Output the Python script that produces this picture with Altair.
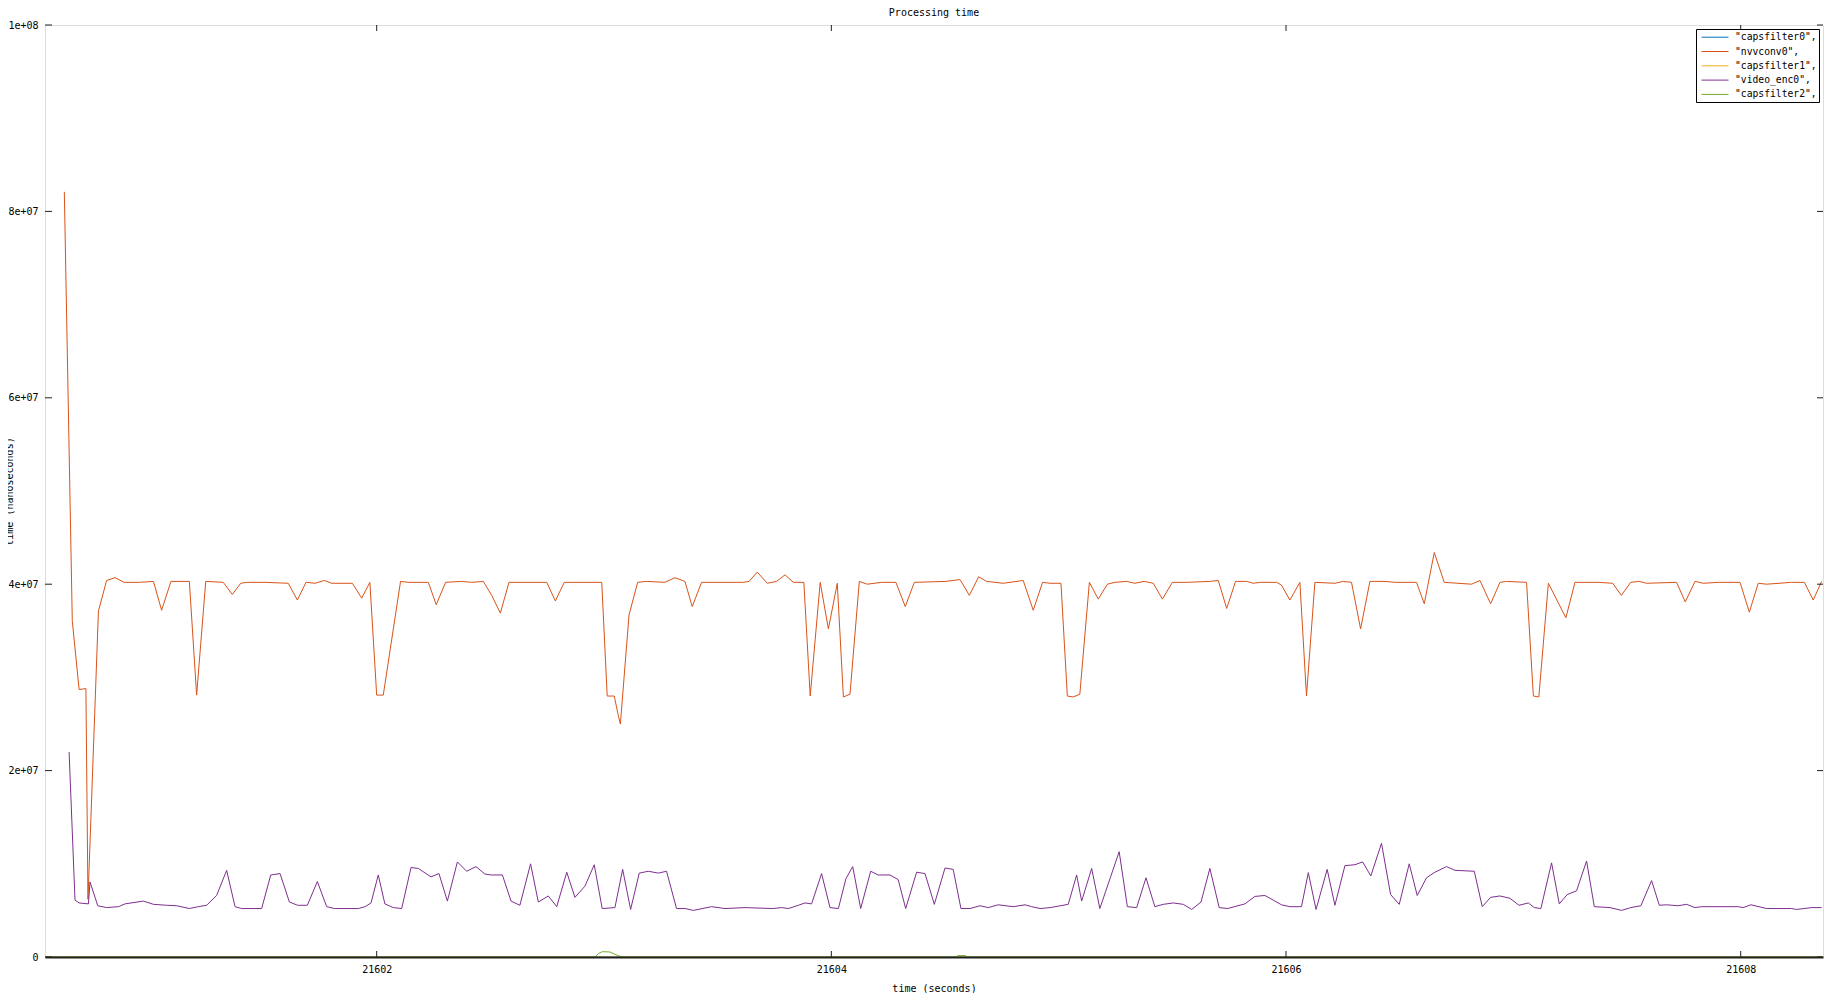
import altair as alt
import pandas as pd

FONT = "DejaVu Sans Mono"

SERIES = ['"capsfilter0",', '"nvvconv0",', '"capsfilter1",', '"video_enc0",', '"capsfilter2",']
COLORS = ["#0072bd", "#d95319", "#edb120", "#7e2f8e", "#77ac30"]

X_TICKS = [21602, 21604, 21606, 21608]
Y_TICKS = [0, 2e7, 4e7, 6e7, 8e7, 1e8]
X_MIN, X_MAX = 21600.541, 21608.362

# values are in units of 1e6 ns
CAPS0_T = [21600.541, 21608.362]
CAPS0_V = [0.0, 0.0]

CAPS1_T = [21600.541, 21608.362]
CAPS1_V = [0.0, 0.0]

CAPS2_T = [21600.541, 21602.960, 21602.975, 21602.992, 21603.026, 21603.048, 21603.070,
           21603.085, 21604.548, 21604.556, 21604.590, 21604.598, 21608.362]
CAPS2_V = [0.0, 0.0, 0.36, 0.57, 0.54, 0.29, 0.07,
           0.0, 0.0, 0.15, 0.15, 0.0, 0.0]

NVV_T = [
    21600.626, 21600.661, 21600.691, 21600.721, 21600.730, 21600.776, 21600.812, 21600.849, 21600.889, 21600.956,
    21601.018, 21601.054, 21601.095, 21601.176, 21601.208, 21601.248, 21601.325, 21601.365, 21601.402, 21601.428,
    21601.509, 21601.611, 21601.651, 21601.689, 21601.729, 21601.770, 21601.802, 21601.893, 21601.934, 21601.970,
    21602.000, 21602.029, 21602.105, 21602.139, 21602.227, 21602.262, 21602.303, 21602.374, 21602.418, 21602.469,
    21602.506, 21602.544, 21602.582, 21602.748, 21602.786, 21602.825, 21602.858, 21602.990, 21603.014, 21603.045,
    21603.062, 21603.072, 21603.110, 21603.148, 21603.187, 21603.268, 21603.312, 21603.356, 21603.388, 21603.429,
    21603.488, 21603.613, 21603.638, 21603.674, 21603.718, 21603.759, 21603.796, 21603.833, 21603.879, 21603.907,
    21603.951, 21603.987, 21604.026, 21604.053, 21604.082, 21604.123, 21604.158, 21604.221, 21604.284, 21604.325,
    21604.365, 21604.504, 21604.566, 21604.607, 21604.648, 21604.683, 21604.756, 21604.844, 21604.888, 21604.929,
    21604.962, 21605.010, 21605.038, 21605.064, 21605.093, 21605.135, 21605.174, 21605.214, 21605.247, 21605.299,
    21605.335, 21605.376, 21605.416, 21605.456, 21605.500, 21605.563, 21605.665, 21605.702, 21605.739, 21605.778,
    21605.827, 21605.856, 21605.885, 21605.959, 21605.980, 21606.017, 21606.061, 21606.090, 21606.127, 21606.215,
    21606.252, 21606.288, 21606.328, 21606.369, 21606.435, 21606.479, 21606.574, 21606.608, 21606.652, 21606.696,
    21606.816, 21606.853, 21606.900, 21606.941, 21606.970, 21607.058, 21607.088, 21607.112, 21607.154, 21607.231,
    21607.271, 21607.373, 21607.437, 21607.475, 21607.516, 21607.554, 21607.586, 21607.718, 21607.756, 21607.799,
    21607.835, 21607.901, 21607.997, 21608.038, 21608.077, 21608.114, 21608.224, 21608.280, 21608.319, 21608.356,
]
NVV_V = [
    82.1, 36.1, 28.7, 28.8, 6.2, 37.1, 40.4, 40.7, 40.2, 40.2,
    40.3, 37.2, 40.3, 40.3, 28.1, 40.3, 40.2, 38.9, 40.1, 40.2,
    40.2, 40.1, 38.3, 40.2, 40.1, 40.4, 40.1, 40.1, 38.5, 40.2,
    28.1, 28.1, 40.3, 40.2, 40.2, 37.8, 40.2, 40.3, 40.2, 40.3,
    38.8, 36.9, 40.2, 40.2, 38.2, 40.2, 40.2, 40.2, 28.0, 28.0,
    26.0, 25.0, 36.7, 40.2, 40.3, 40.2, 40.7, 40.3, 37.6, 40.2,
    40.2, 40.2, 40.3, 41.3, 40.1, 40.3, 41.0, 40.2, 40.2, 28.0,
    40.2, 35.2, 40.1, 27.9, 28.2, 40.3, 40.0, 40.2, 40.2, 37.6,
    40.2, 40.3, 40.5, 38.8, 40.8, 40.3, 40.1, 40.4, 37.2, 40.2,
    40.1, 40.1, 28.0, 27.9, 28.2, 40.2, 38.4, 40.0, 40.2, 40.3,
    40.1, 40.3, 40.1, 38.4, 40.2, 40.2, 40.3, 40.4, 37.4, 40.3,
    40.3, 40.1, 40.2, 40.2, 39.9, 38.3, 40.2, 28.0, 40.2, 40.1,
    40.3, 40.2, 35.2, 40.3, 40.3, 40.2, 40.2, 37.9, 43.4, 40.2,
    40.0, 40.4, 37.9, 40.2, 40.3, 40.2, 28.0, 27.9, 40.1, 36.4,
    40.2, 40.2, 40.1, 38.8, 40.2, 40.3, 40.1, 40.2, 38.1, 40.3,
    40.1, 40.2, 40.2, 37.0, 40.1, 40.0, 40.2, 40.2, 38.3, 40.3,
]

ENC_T = [
    21600.647, 21600.673, 21600.691, 21600.732, 21600.739, 21600.773, 21600.812, 21600.864, 21600.893, 21600.974,
    21601.018, 21601.076, 21601.120, 21601.176, 21601.215, 21601.252, 21601.296, 21601.340, 21601.377, 21601.406,
    21601.494, 21601.534, 21601.575, 21601.616, 21601.652, 21601.695, 21601.739, 21601.780, 21601.814, 21601.919,
    21601.949, 21601.975, 21602.007, 21602.036, 21602.073, 21602.110, 21602.151, 21602.183, 21602.239, 21602.274,
    21602.311, 21602.355, 21602.396, 21602.437, 21602.476, 21602.503, 21602.553, 21602.591, 21602.630, 21602.677,
    21602.711, 21602.755, 21602.792, 21602.836, 21602.872, 21602.916, 21602.957, 21602.992, 21603.048, 21603.082,
    21603.117, 21603.155, 21603.195, 21603.239, 21603.275, 21603.319, 21603.356, 21603.393, 21603.473, 21603.532,
    21603.620, 21603.742, 21603.781, 21603.811, 21603.855, 21603.884, 21603.913, 21603.957, 21603.994, 21604.031,
    21604.064, 21604.094, 21604.129, 21604.173, 21604.206, 21604.258, 21604.294, 21604.327, 21604.375, 21604.412,
    21604.453, 21604.500, 21604.536, 21604.570, 21604.610, 21604.654, 21604.690, 21604.734, 21604.800, 21604.852,
    21604.881, 21604.918, 21604.962, 21605.042, 21605.079, 21605.101, 21605.145, 21605.181, 21605.266, 21605.302,
    21605.343, 21605.384, 21605.423, 21605.460, 21605.504, 21605.548, 21605.585, 21605.626, 21605.665, 21605.706,
    21605.743, 21605.819, 21605.863, 21605.907, 21605.944, 21605.980, 21606.017, 21606.068, 21606.098, 21606.132,
    21606.181, 21606.215, 21606.259, 21606.303, 21606.337, 21606.373, 21606.420, 21606.460, 21606.498, 21606.542,
    21606.577, 21606.618, 21606.655, 21606.706, 21606.743, 21606.828, 21606.863, 21606.900, 21606.941, 21606.985,
    21607.025, 21607.066, 21607.092, 21607.121, 21607.168, 21607.202, 21607.237, 21607.278, 21607.322, 21607.356,
    21607.425, 21607.476, 21607.516, 21607.561, 21607.608, 21607.642, 21607.674, 21607.725, 21607.762, 21607.799,
    21607.828, 21607.989, 21608.011, 21608.045, 21608.114, 21608.224, 21608.246, 21608.312, 21608.356,
]
ENC_V = [
    22.0, 6.1, 5.8, 5.7, 8.05, 5.5, 5.3, 5.4, 5.7, 6.0,
    5.65, 5.55, 5.5, 5.2, 5.4, 5.55, 6.6, 9.3, 5.4, 5.2,
    5.2, 8.8, 8.95, 5.9, 5.55, 5.55, 8.1, 5.4, 5.2, 5.2,
    5.4, 5.8, 8.8, 5.7, 5.3, 5.2, 9.6, 9.5, 8.6, 8.95,
    6.0, 10.2, 9.2, 9.7, 8.9, 8.8, 8.8, 6.0, 5.55, 10.0,
    5.9, 6.55, 5.4, 9.1, 6.4, 7.6, 9.9, 5.2, 5.3, 9.4,
    5.1, 9.0, 9.2, 9.0, 9.2, 5.2, 5.2, 5.0, 5.4, 5.2,
    5.3, 5.2, 5.3, 5.2, 5.55, 5.8, 5.7, 8.95, 5.3, 5.2,
    8.4, 9.7, 5.2, 9.2, 8.8, 8.8, 8.3, 5.2, 9.1, 8.95,
    5.65, 9.55, 9.4, 5.2, 5.2, 5.5, 5.3, 5.6, 5.4, 5.6,
    5.4, 5.2, 5.3, 5.65, 8.8, 6.0, 9.5, 5.2, 11.3, 5.4,
    5.3, 8.5, 5.4, 5.65, 5.8, 5.65, 5.1, 5.9, 9.5, 5.3,
    5.2, 5.7, 6.5, 6.6, 6.1, 5.6, 5.4, 5.4, 9.05, 5.1,
    9.4, 5.55, 9.8, 9.9, 10.2, 8.7, 12.2, 6.7, 5.65, 10.0,
    6.6, 8.5, 9.1, 9.7, 9.3, 9.2, 5.4, 6.4, 6.55, 6.3,
    5.55, 5.8, 5.3, 5.2, 10.1, 5.7, 6.7, 7.1, 10.3, 5.4,
    5.3, 5.0, 5.3, 5.5, 8.2, 5.55, 5.6, 5.5, 5.65, 5.3,
    5.4, 5.4, 5.3, 5.6, 5.2, 5.2, 5.1, 5.3, 5.3,
]

assert len(NVV_T) == len(NVV_V) and len(ENC_T) == len(ENC_V)

frames = []
for name, ts, vs in [
    (SERIES[0], CAPS0_T, CAPS0_V),
    (SERIES[1], NVV_T, NVV_V),
    (SERIES[2], CAPS1_T, CAPS1_V),
    (SERIES[3], ENC_T, ENC_V),
    (SERIES[4], CAPS2_T, CAPS2_V),
]:
    frames.append(pd.DataFrame({"series": name, "t": ts, "ns": [v * 1e6 for v in vs]}))
df = pd.concat(frames, ignore_index=True)

W, H = 1778, 932
TICK = 6
BORDER = "#222222"

x_scale = alt.Scale(domain=[X_MIN, X_MAX], nice=False, zero=False)
y_scale = alt.Scale(domain=[0, 1e8], nice=False)

lines = alt.Chart(df).mark_line(strokeWidth=1, clip=True).encode(
    x=alt.X("t:Q", scale=x_scale,
            axis=alt.Axis(values=X_TICKS, format="d", title="time (seconds)",
                          domain=True, domainColor=BORDER, domainWidth=2, ticks=False,
                          grid=False, labelFont=FONT, labelFontSize=10, labelColor="#000",
                          labelPadding=7, titleFont=FONT, titleFontSize=10,
                          titleFontWeight="normal", titleColor="#000", titleY=34,
                          titleBaseline="alphabetic", zindex=1)),
    y=alt.Y("ns:Q", scale=y_scale,
            axis=alt.Axis(values=Y_TICKS,
                          labelExpr="datum.value == 0 ? '0' : replace(format(datum.value, '.0e'), 'e+', 'e+0')",
                          title="time (nanoseconds)", domain=False, ticks=False, grid=False,
                          labelFont=FONT, labelFontSize=10, labelColor="#000", labelPadding=7,
                          titleFont=FONT, titleFontSize=10, titleFontWeight="normal",
                          titleColor="#000", titleAngle=270, titleX=-33, titleY=466,
                          titleAlign="center", titleBaseline="alphabetic")),
    color=alt.Color("series:N", sort=SERIES,
                    scale=alt.Scale(domain=SERIES, range=COLORS),
                    legend=alt.Legend(title=None, orient="none", legendX=1651, legendY=4,
                                      direction="vertical", symbolType="M-0.49,0H4.42",
                                      symbolSize=121, symbolStrokeWidth=1,
                                      labelFont=FONT, labelFontSize=9.7, labelColor="#000",
                                      labelOffset=24.8, padding=2.2, strokeColor="#000",
                                      fillColor="#ffffff", rowPadding=3.3, cornerRadius=0,
                                      labelLimit=0)),
)

xt = pd.DataFrame({"t": X_TICKS})
yt = pd.DataFrame({"ns": Y_TICKS})

xb = alt.Chart(xt).mark_rule(color=BORDER, strokeWidth=1).encode(
    x="t:Q", y=alt.value(H - TICK), y2=alt.value(H))
xtop = alt.Chart(xt).mark_rule(color=BORDER, strokeWidth=1).encode(
    x="t:Q", y=alt.value(0), y2=alt.value(TICK))
yl = alt.Chart(yt).mark_rule(color=BORDER, strokeWidth=1).encode(
    y="ns:Q", x=alt.value(0), x2=alt.value(TICK + 1))
yr = alt.Chart(yt).mark_rule(color=BORDER, strokeWidth=1).encode(
    y="ns:Q", x=alt.value(W - TICK), x2=alt.value(W))

chart = alt.layer(lines, xb, xtop, yl, yr).properties(
    width=W, height=H,
    autosize=alt.AutoSizeParams(type="none"),
    padding={"left": 37, "top": 17, "right": 5, "bottom": 36},
    title=alt.TitleParams("Processing time", font=FONT, fontSize=10, fontWeight="normal",
                          color="#000", anchor="middle", frame="group", offset=2),
).configure_view(stroke=BORDER, strokeWidth=2).configure(font=FONT)

chart.save("out.html", embed_options={"renderer": "svg", "actions": False})
